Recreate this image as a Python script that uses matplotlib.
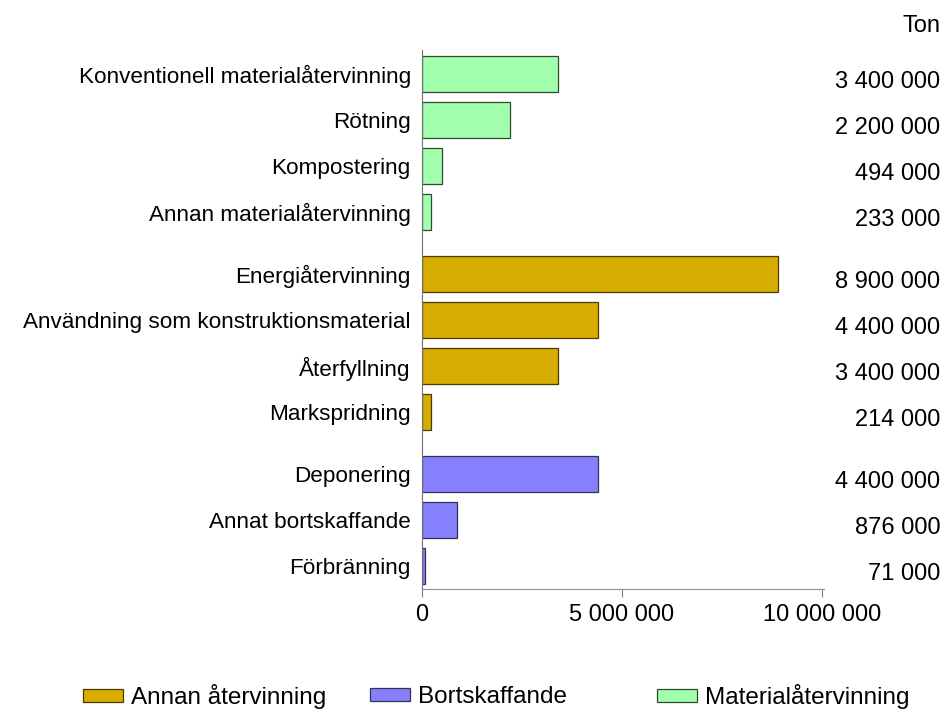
import matplotlib
matplotlib.use("Agg")
import matplotlib.pyplot as plt
import matplotlib.transforms as mtransforms
from matplotlib.patches import Patch

plt.rcParams["font.family"] = ["Liberation Sans", "DejaVu Sans"]

labels = ["Konventionell materialåtervinning", "Rötning", "Kompostering",
          "Annan materialåtervinning",
          "Energiåtervinning", "Användning som konstruktionsmaterial",
          "Återfyllning", "Markspridning",
          "Deponering", "Annat bortskaffande", "Förbränning"]
values = [3400000, 2200000, 494000, 233000,
          8900000, 4400000, 3400000, 214000,
          4400000, 876000, 71000]
value_text = ["3 400 000", "2 200 000", "494 000", "233 000",
              "8 900 000", "4 400 000", "3 400 000", "214 000",
              "4 400 000", "876 000", "71 000"]
groups = ["Materialåtervinning"] * 4 + ["Annan återvinning"] * 4 + ["Bortskaffande"] * 3
legend_order = ["Annan återvinning", "Bortskaffande", "Materialåtervinning"]

colors = {"Annan återvinning": "#D6AD00",
          "Bortskaffande": "#8680FF",
          "Materialåtervinning": "#A2FFAE"}
edges = {"Annan återvinning": "#4A3C00",
         "Bortskaffande": "#333355",
         "Materialåtervinning": "#2F4A32"}

# positions with extra space between groups
pos = []
y = 0.0
prev = None
for g in groups:
    if prev is not None:
        y += 1.35 if g != prev else 1.0
    pos.append(y)
    prev = g

fig = plt.figure(figsize=(9.44, 7.09), dpi=100)
ax = fig.add_axes([0.447, 0.169, 0.426, 0.7605])

ax.barh(pos, values, height=0.78,
        color=[colors[g] for g in groups],
        edgecolor=[edges[g] for g in groups], linewidth=0.9)

ax.set_ylim(11.2, -0.52)
ax.set_xlim(0, 10.05e6)
ax.set_yticks(pos)
ax.set_yticklabels(labels, fontsize=16.2)
ax.tick_params(axis="y", length=0, pad=8)
ax.set_xticks([0, 5e6, 10e6])
ax.set_xticklabels(["0", "5 000 000", "10 000 000"], fontsize=17)
ax.tick_params(axis="x", length=6, color="#808080", pad=5)

for s in ["top", "right"]:
    ax.spines[s].set_visible(False)
ax.spines["left"].set_color("#707070")
ax.spines["bottom"].set_color("#909090")

trans = mtransforms.blended_transform_factory(fig.transFigure, ax.transData)
for p, t in zip(pos, value_text):
    ax.text(0.996, p + 0.17, t, transform=trans, ha="right", va="center",
            fontsize=17, clip_on=False)
fig.text(0.996, 1 - 26 / 709, "Ton", ha="right", va="center", fontsize=17)

# legend entries placed like the original (uneven spacing)
leg_x = [0.088, 0.392, 0.696]
for k, lx in zip(legend_order, leg_x):
    h = Patch(facecolor=colors[k], edgecolor=edges[k], linewidth=0.9, label=k)
    fig.legend(handles=[h], loc="center left", bbox_to_anchor=(lx, 0.017),
               frameon=False, fontsize=17.5, handlelength=1.65,
               handleheight=0.42, handletextpad=0.33, borderpad=0, borderaxespad=0)

plt.savefig("out.png", dpi=100)
